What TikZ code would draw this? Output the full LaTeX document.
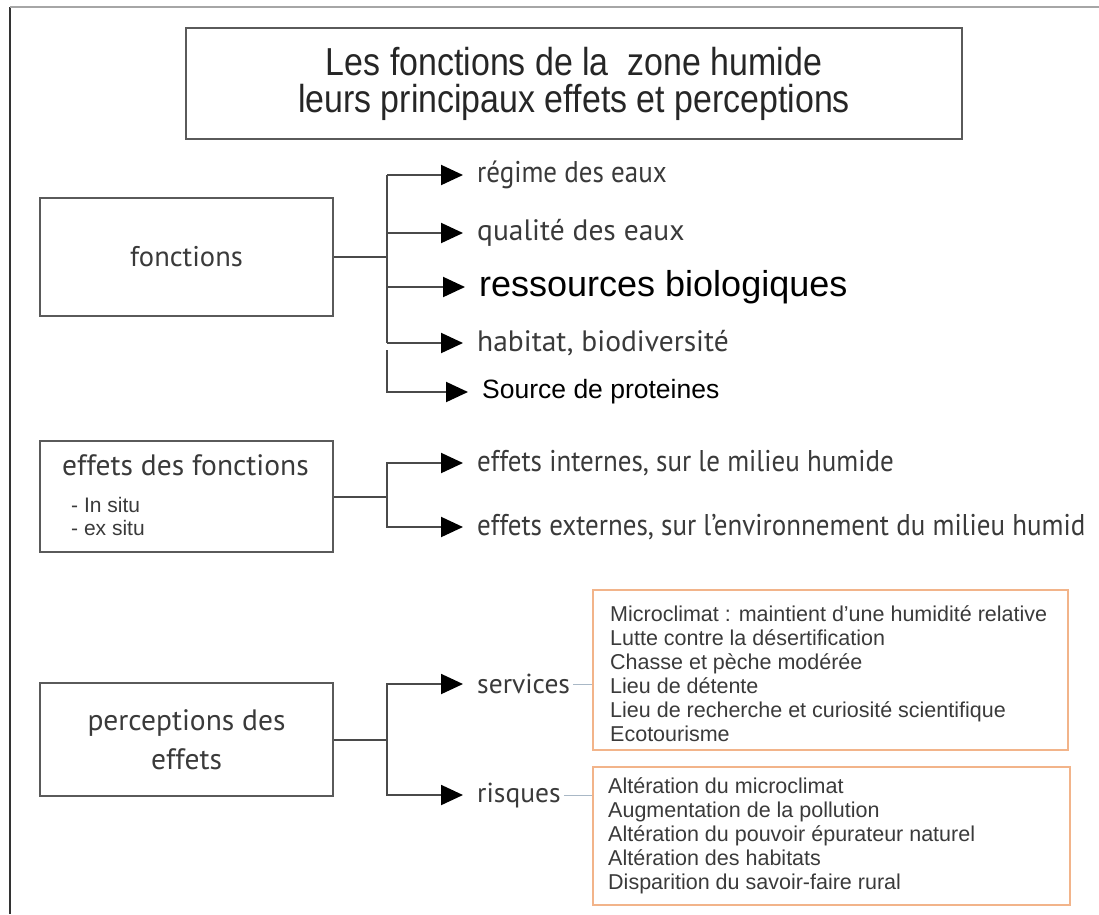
\documentclass[tikz,border=0pt]{standalone}
\usepackage{fontspec}
\setmainfont{Liberation Sans}
\newfontfamily\titlefont[FakeStretch=0.87]{Liberation Sans}
\newfontfamily\humfont{PT Sans}
\newfontfamily\narfont[FakeStretch=0.9]{PT Sans}
\usetikzlibrary{arrows.meta,positioning}

\definecolor{boxgray}{HTML}{5A5A5A}
\definecolor{linegray}{HTML}{4A4A4A}
\definecolor{txtgray}{HTML}{3A3A3A}
\definecolor{listorange}{HTML}{F2B48A}
\definecolor{tiegray}{HTML}{A9B8C6}

\begin{document}
\begin{tikzpicture}[
			x=1pt, y=-1pt,
			>={Triangle[width=20pt,length=22pt,color=black]},
			box/.style={draw=boxgray, line width=2.5pt, inner sep=0pt, text=txtgray},
			lbox/.style={draw=listorange, line width=2pt, inner sep=0pt},
			conn/.style={draw=linegray, line width=2pt},
			arr/.style={conn, ->},
			brarr/.style={conn, ->, shorten >=14pt},
			brtxt/.style={anchor=west, inner sep=0pt, text=txtgray},
			tie/.style={draw=tiegray, line width=1pt, shorten <=3pt},
			list/.style={anchor=west, inner sep=0pt, align=left, text=txtgray,
				font=\fontsize{21.5}{24}\selectfont}
	]
	\useasboundingbox (0,0) rectangle (1099,914);
	\draw[draw=black!80, line width=2.5pt] (10,7) -- (10,914);
	\draw[draw=black!35, line width=1.5pt] (10,7) -- (1099,7);

	\coordinate (vx) at (207,0);
	\coordinate (tx) at (387,0);

	% >> boxes
	\node[box, minimum width=776, minimum height=111, align=center,
		font=\titlefont\fontsize{39}{37}\selectfont, text=black!85] (title) at (574,83.5)
		{Les fonctions de la\ \ zone humide\\ leurs principaux effets et perceptions};
	\node[box, minimum width=293, minimum height=118,
		font=\humfont\fontsize{28.5}{30}\selectfont] (fonc) at (186.5,257) {fonctions};
	\node[box, minimum width=293, minimum height=111] (eff) at (186.5,496.5) {};
	\node[brtxt, font=\humfont\fontsize{29.5}{30}\selectfont] (efft) at (62,465) {effets des fonctions};
	\node[brtxt, align=left, font=\fontsize{21}{23}\selectfont] (situ) at (71,516.5) {- In situ\\- ex situ};
	\node[box, minimum width=293, minimum height=113, align=center,
		font=\humfont\fontsize{29.5}{39}\selectfont] (per) at (186.5,739.5) {perceptions des\\effets};

	% >> fonctions
	\node[brtxt, font=\narfont\fontsize{30}{30}\selectfont] (reg) at (477,175) {régime des eaux};
	\node[brtxt, font=\humfont\fontsize{29.5}{30}\selectfont] (qual) at (477,233) {qualité des eaux};
	\node[brtxt, font=\fontsize{36}{38}\selectfont, text=black] (res) at (479,287) {ressources biologiques};
	\node[brtxt, font=\humfont\fontsize{29.5}{30}\selectfont] (hab) at (477,343) {habitat, biodiversité};
	\node[brtxt, font=\fontsize{26.5}{28}\selectfont, text=black] (src) at (482,392) {Source de proteines};

	\draw[conn] (fonc.east) -- (fonc.east -| tx);
	\draw[conn] (reg.west -| tx) -- (hab.west -| tx);
	\foreach \n in {reg,qual,res,hab}
		\draw[brarr] (\n.west -| tx) -- (\n.west);
	\draw[brarr] (src.west -| tx) ++(0,-42) |- (src.west);

	% >> effets
	\node[brtxt, font=\narfont\fontsize{30}{30}\selectfont] (int) at (477,463) {effets internes, sur le milieu humide};
	\node[brtxt, font=\narfont\fontsize{30}{30}\selectfont] (ext) at (477,527) {effets externes, sur l’environnement du milieu humid};
	\draw[conn] (eff.east) -- (eff.east -| tx);
	\draw[brarr] (eff.east -| tx) |- (int.west);
	\draw[brarr] (eff.east -| tx) |- (ext.west);

	% >> perceptions
	\node[brtxt, font=\humfont\fontsize{27.5}{28}\selectfont] (serv) at (477,684) {services};
	\node[brtxt, font=\humfont\fontsize{27.5}{28}\selectfont] (risq) at (477,795) {risques};
	\draw[conn] (per.east) -- (per.east -| tx);
	\draw[brarr] (per.east -| tx) |- (serv.west);
	\draw[brarr] (per.east -| tx) |- (risq.west);

	\node[lbox, minimum width=475, minimum height=160] (svbox) at (830.5,670) {};
	\node[list] (svlist) at (610,674) {Microclimat : maintient d'une humidité relative\\
		Lutte contre la désertification\\
		Chasse et pèche modérée\\
		Lieu de détente\\
		Lieu de recherche et curiosité scientifique\\
		Ecotourisme};
	\node[lbox, minimum width=477, minimum height=138] (rkbox) at (831.5,836) {};
	\node[list] (rklist) at (608,836) {Altération du microclimat\\
		Augmentation de la pollution\\
		Altération du pouvoir épurateur naturel\\
		Altération des habitats\\
		Disparition du savoir-faire rural};
	\draw[tie] (serv.east) -- (serv.east -| svbox.west);
	\draw[tie] (risq.east) -- (risq.east -| rkbox.west);
\end{tikzpicture}
\end{document}
